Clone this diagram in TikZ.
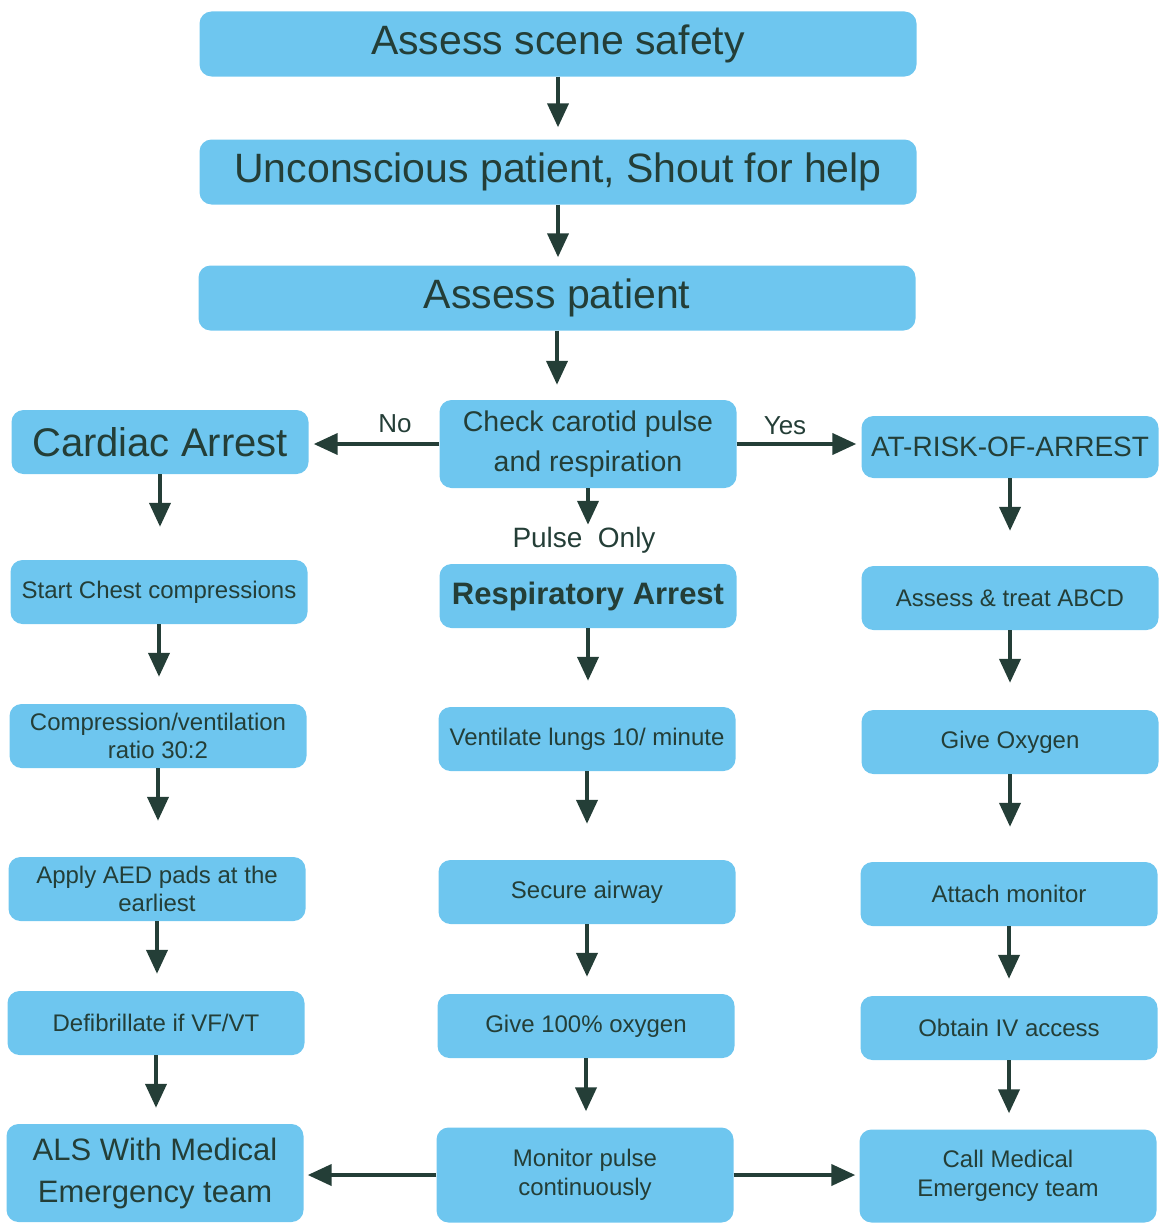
\documentclass[tikz,border=0pt]{standalone}
\usepackage{fontspec}
\setmainfont{Liberation Sans}
\usetikzlibrary{arrows.meta}
\definecolor{boxblue}{RGB}{110,198,239}
\definecolor{ink}{RGB}{36,62,55}

\begin{document}
\begin{tikzpicture}[x=1pt, y=-1pt,
    box/.style={fill=boxblue, rounded corners=12pt, text=ink, align=center, inner sep=0pt,
        minimum width=297pt, minimum height=64pt, font=\fontsize{24}{28.5}\selectfont},
    wide/.style={box, minimum width=717pt, minimum height=65pt, font=\fontsize{41}{48}\selectfont},
    arr/.style={draw=ink, line width=4pt, -{Triangle[length=24pt,width=21pt]}},
    lbl/.style={text=ink, inner sep=2pt, font=\fontsize{26}{30}\selectfont}]
    \useasboundingbox (0,0) rectangle (1163,1223);
    % top part
    \node[wide] (scene) at (558,44) {Assess scene safety};
    \node[wide] (shout) at (558,172) {Unconscious patient, Shout for help};
    \node[wide] (pat) at (557,298) {Assess patient};
    \node[box, font=\fontsize{40}{46}\selectfont] (card) at (160,442) {Cardiac Arrest};
    \node[box, minimum height=88pt, font=\fontsize{28.5}{40}\selectfont] (chk) at (588,444) {Check carotid pulse\\and respiration};
    \node[box, minimum height=62pt, font=\fontsize{28}{32}\selectfont] (risk) at (1010,447) {AT-RISK-OF-ARREST};
    \node[lbl] at (395,424) {No};
    \node[lbl] at (785,426) {Yes};
    \node[lbl, font=\fontsize{28}{32}\selectfont] (only) at (584,540) {Pulse\hspace{0.55em}Only};
    % left column
    \node[box] (chest) at (159,592) {Start Chest compressions};
    \node[box] (ratio) at (158,736) {Compression/ventilation\\ratio 30:2};
    \node[box] (aed) at (157,889) {Apply AED pads at the\\earliest};
    \node[box] (defib) at (156,1023) {Defibrillate if VF/VT};
    \node[box, minimum height=98pt, font=\fontsize{31}{42}\selectfont] (als) at (155,1173) {ALS With Medical\\Emergency team};
    % middle column
    \node[box, font=\bfseries\fontsize{31}{36}\selectfont] (resp) at (588,596) {Respiratory Arrest};
    \node[box] (vent) at (587,739) {Ventilate lungs 10/ minute};
    \node[box] (airway) at (587,892) {Secure airway};
    \node[box] (oxy) at (586,1026) {Give 100\% oxygen};
    \node[box, minimum height=95pt] (mon) at (585,1175) {Monitor pulse\\continuously};
    % right column
    \node[box] (abcd) at (1010,598) {Assess \& treat ABCD};
    \node[box] (give) at (1010,742) {Give Oxygen};
    \node[box] (attach) at (1009,894) {Attach monitor};
    \node[box] (iv) at (1009,1028) {Obtain IV access};
    \node[box, minimum height=93pt] (call) at (1008,1176) {Call Medical\\Emergency team};

    \draw[arr, shorten >=12pt] (scene.south) -- (scene.south |- shout.north);
    \draw[arr, shorten >=8pt] (shout.south) -- (shout.south |- pat.north);
    \draw[arr, shorten >=15pt] (pat.south) -- (pat.south |- chk.north);
    \draw[arr, shorten >=5pt] (chk.west) -- (chk.west -| card.east);
    \draw[arr, shorten >=5pt] (chk.east) -- (chk.east -| risk.west);
    \draw[arr] (chk.south) -- (chk.south |- only.north);
    \draw[arr, shorten >=33pt] (card.south) -- (card.south |- chest.north);
    \draw[arr, shorten >=27pt] (chest.south) -- (chest.south |- ratio.north);
    \draw[arr, shorten >=36pt] (ratio.south) -- (ratio.south |- aed.north);
    \draw[arr, shorten >=17pt] (aed.south) -- (aed.south |- defib.north);
    \draw[arr, shorten >=16pt] (defib.south) -- (defib.south |- als.north);
    \draw[arr, shorten >=26pt] (resp.south) -- (resp.south |- vent.north);
    \draw[arr, shorten >=36pt] (vent.south) -- (vent.south |- airway.north);
    \draw[arr, shorten >=17pt] (airway.south) -- (airway.south |- oxy.north);
    \draw[arr, shorten >=16pt] (oxy.south) -- (oxy.south |- mon.north);
    \draw[arr, shorten >=35pt] (risk.south) -- (risk.south |- abcd.north);
    \draw[arr, shorten >=27pt] (abcd.south) -- (abcd.south |- give.north);
    \draw[arr, shorten >=35pt] (give.south) -- (give.south |- attach.north);
    \draw[arr, shorten >=17pt] (attach.south) -- (attach.south |- iv.north);
    \draw[arr, shorten >=16pt] (iv.south) -- (iv.south |- call.north);
    \draw[arr, shorten >=4pt] (mon.west) -- (mon.west -| als.east);
    \draw[arr, shorten >=4pt] (mon.east) -- (mon.east -| call.west);
\end{tikzpicture}
\end{document}
